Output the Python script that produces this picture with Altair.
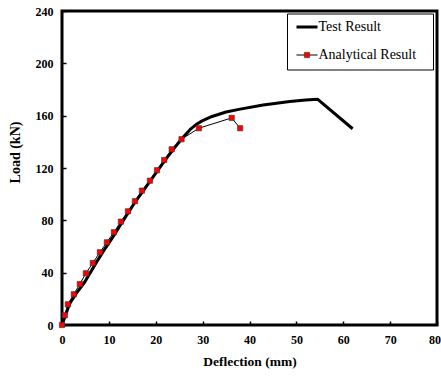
import altair as alt
import pandas as pd

test_x = [0, 0.8, 1.6, 3, 4.7, 6.2, 7.7, 9.3, 10.8, 12.4, 14, 15.6, 17.2, 18.8, 20.5, 22.2, 24.0, 25.6, 27.3, 28.6, 30.0, 32.0, 35.0, 38.0, 42.9, 48.6, 52.0, 54.5, 62]
test_y = [0, 8, 16, 24, 32, 41, 50, 59, 67, 76, 85, 94, 102, 110, 118.5, 127, 135.5, 142.5, 149.3, 153.2, 156.2, 159.4, 162.8, 165.0, 168.2, 170.8, 172.0, 172.6, 150]

ana_x = [0, 0.6, 1.24, 2.52, 3.8, 5.09, 6.58, 8.08, 9.57, 11.07, 12.56, 14.06, 15.56, 17.05, 18.76, 20.26, 21.8, 23.4, 25.5, 29.2, 36.2, 38.0]
ana_y = [0, 7.4, 15.8, 23.5, 31.3, 39.5, 47.4, 55.6, 63.2, 70.9, 79.0, 86.9, 94.6, 102.7, 110.3, 118.3, 126.1, 134.3, 142.0, 150.4, 158.3, 150.4]

x_ticks = [0, 10, 20, 30, 40, 50, 60, 70, 80]
y_ticks = [0, 40, 80, 120, 160, 200, 240]
legend_labels = ["Test Result", "Analytical Result"]

W, H = 375, 314
FONT = "Liberation Serif"

test_df = pd.DataFrame({"x": test_x, "y": test_y})
ana_df = pd.DataFrame({"x": ana_x, "y": ana_y})

xs = alt.Scale(domain=[0, 80], nice=False)
ys = alt.Scale(domain=[0, 240], nice=False)

x_axis_main = alt.Axis(values=x_ticks, ticks=False, domain=False, grid=False,
                       labelFlush=False,
                       labelAlign=alt.ExprRef(expr="datum.value == 80 ? 'right' : 'center'"),
                       labelOffset=alt.ExprRef(expr="datum.value == 80 ? 3.5 : 0"),
                       labelFont=FONT, labelFontSize=12, labelFontWeight="bold",
                       labelColor="black", labelPadding=9,
                       title="Deflection (mm)", titleFont=FONT, titleFontSize=13.5,
                       titleFontWeight="bold", titleColor="black", titlePadding=9)
y_axis_main = alt.Axis(values=y_ticks, ticks=False, domain=False, grid=False,
                       labelFlush=False,
                       labelFont=FONT, labelFontSize=12, labelFontWeight="bold",
                       labelColor="black", labelPadding=9,
                       title="Load (kN)", titleFont=FONT, titleFontSize=14,
                       titleFontWeight="bold", titleColor="black",
                       titleX=-40, titleY=141)
x_axis_ticks = alt.Axis(orient="top", offset=-H, values=x_ticks, labels=False,
                        domain=False, grid=False, ticks=True, tickSize=4,
                        tickWidth=1.5, tickColor="black", title=None)
y_axis_ticks = alt.Axis(orient="right", offset=-W, values=y_ticks, labels=False,
                        domain=False, grid=False, ticks=True, tickSize=4,
                        tickWidth=1.5, tickColor="black", title=None)

test_line = alt.Chart(test_df).mark_line(color="black", strokeWidth=3,
                                         strokeJoin="round").encode(
    x=alt.X("x:Q", scale=xs, axis=x_axis_main),
    y=alt.Y("y:Q", scale=ys, axis=y_axis_main),
)

ana_line = alt.Chart(ana_df).mark_line(color="black", strokeWidth=1).encode(
    x=alt.X("x:Q", scale=xs, axis=x_axis_ticks),
    y=alt.Y("y:Q", scale=ys, axis=y_axis_ticks),
)
ana_pts = alt.Chart(ana_df).mark_point(shape="square", filled=True, fill="#ff0000",
                                       stroke="#333333", strokeWidth=0.6, size=28,
                                       opacity=1).encode(
    x=alt.X("x:Q", scale=xs, axis=None),
    y=alt.Y("y:Q", scale=ys, axis=None),
)

one = pd.DataFrame({"a": [0]})
leg_box = alt.Chart(one).mark_rect(fill="white", stroke="black", strokeWidth=1).encode(
    x=alt.value(225.5), x2=alt.value(371.5), y=alt.value(3), y2=alt.value(59))
leg_l1 = alt.Chart(one).mark_rule(color="black", strokeWidth=3).encode(
    x=alt.value(234.5), x2=alt.value(255.5), y=alt.value(16))
leg_l2 = alt.Chart(one).mark_rule(color="black", strokeWidth=1).encode(
    x=alt.value(234.5), x2=alt.value(255.5), y=alt.value(44))
leg_p2 = alt.Chart(one).mark_point(shape="square", filled=True, fill="#ff0000",
                                   stroke="#333333", strokeWidth=0.6, size=28,
                                   opacity=1).encode(
    x=alt.value(245), y=alt.value(44))
leg_t1 = alt.Chart(pd.DataFrame({"t": [legend_labels[0]]})).mark_text(
    align="left", baseline="middle", font=FONT, fontSize=14, color="black").encode(
    x=alt.value(256.5), y=alt.value(16), text="t:N")
leg_t2 = alt.Chart(pd.DataFrame({"t": [legend_labels[1]]})).mark_text(
    align="left", baseline="middle", font=FONT, fontSize=14, color="black").encode(
    x=alt.value(256.5), y=alt.value(44), text="t:N")

chart = alt.layer(test_line, ana_line, ana_pts, leg_box, leg_l1, leg_l2, leg_p2,
                  leg_t1, leg_t2).resolve_axis(
    x="independent", y="independent"
).properties(
    width=W, height=H,
    padding={"left": 62, "top": 11, "right": 4, "bottom": 52},
    autosize=alt.AutoSizeParams(type="none"),
    background="white",
).configure_view(stroke="black", strokeWidth=3)

chart.save("out.html", embed_options={"renderer": "svg", "actions": False})
